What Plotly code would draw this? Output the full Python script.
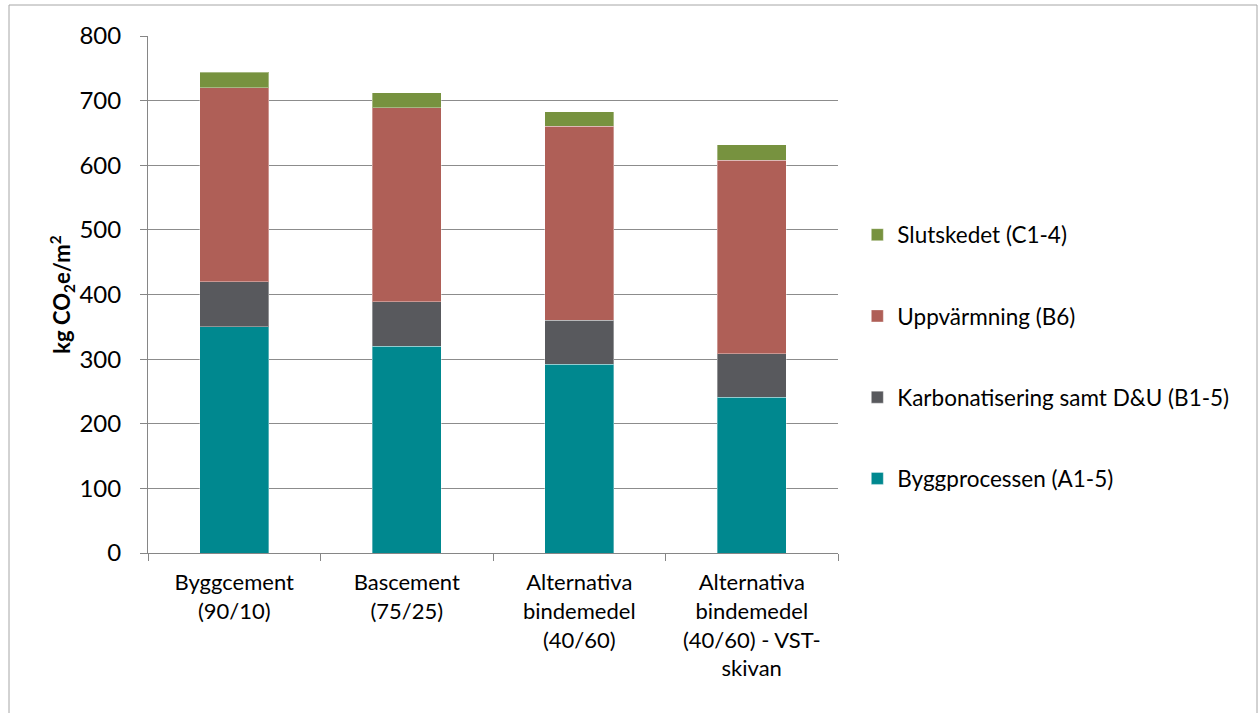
import plotly.graph_objects as go

categories = [
    "Byggcement<br>(90/10)",
    "Bascement<br>(75/25)",
    "Alternativa<br>bindemedel<br>(40/60)",
    "Alternativa<br>bindemedel<br>(40/60) - VST-<br>skivan",
]
byggprocessen = [350, 320, 292, 241]
karbonatisering = [70, 69, 68, 67]
uppvarmning = [300, 300, 300, 300]
slutskedet = [24, 23, 23, 24]

series = [
    ("Byggprocessen (A1-5)", byggprocessen, "#00888F"),
    ("Karbonatisering samt D&U (B1-5)", karbonatisering, "#58595D"),
    ("Uppvärmning (B6)", uppvarmning, "#AF5F57"),
    ("Slutskedet (C1-4)", slutskedet, "#77923F"),
]

font_family = "Lato, 'Open Sans', sans-serif"

fig = go.Figure()
for i, (name, vals, color) in enumerate(series):
    fig.add_trace(go.Bar(
        x=categories, y=vals, name=name, legendgroup=name,
        legendrank=len(series) - i,
        marker=dict(color=color, line=dict(color="rgba(255,255,255,0.35)", width=1)),
    ))

L, R, T, B = 148, 422, 36, 160
W, H = 1260, 713
pw, ph = W - L - R, H - T - B

fig.update_layout(
    width=W, height=H,
    margin=dict(l=L, r=R, t=T, b=B),
    barmode="stack", bargap=0.6,
    plot_bgcolor="white", paper_bgcolor="white",
    font=dict(family=font_family, size=22, color="#000000"),
    legend=dict(
        x=1.028, y=0.38, xanchor="left", yanchor="middle",
        traceorder="grouped", tracegroupgap=49,
        font=dict(size=22.5), itemwidth=30,
    ),
    xaxis=dict(
        showline=True, linecolor="#868686", linewidth=1,
        ticks="outside", tickson="boundaries", ticklen=7, tickcolor="#868686",
        ticklabelstandoff=10,
        tickfont=dict(size=22),
    ),
    yaxis=dict(
        range=[0, 800], dtick=100,
        showline=True, linecolor="#868686", linewidth=1,
        ticks="outside", ticklen=7, tickcolor="#868686",
        ticklabelstandoff=14,
        showgrid=True, gridcolor="#8C8C8C", gridwidth=1,
        zeroline=False,
        tickfont=dict(size=24),
        title=dict(text="<b>kg CO<sub>2</sub>e/m<sup>2</sup></b>", font=dict(size=22), standoff=2),
    ),
    shapes=[dict(
        type="rect", xref="paper", yref="paper",
        x0=(9 - L) / pw, x1=(1257 - L) / pw,
        y0=(H - B - 730) / ph, y1=(H - B - 5) / ph,
        line=dict(color="#A6A6A6", width=1), layer="below",
    )],
)

fig.write_html("out.html")
